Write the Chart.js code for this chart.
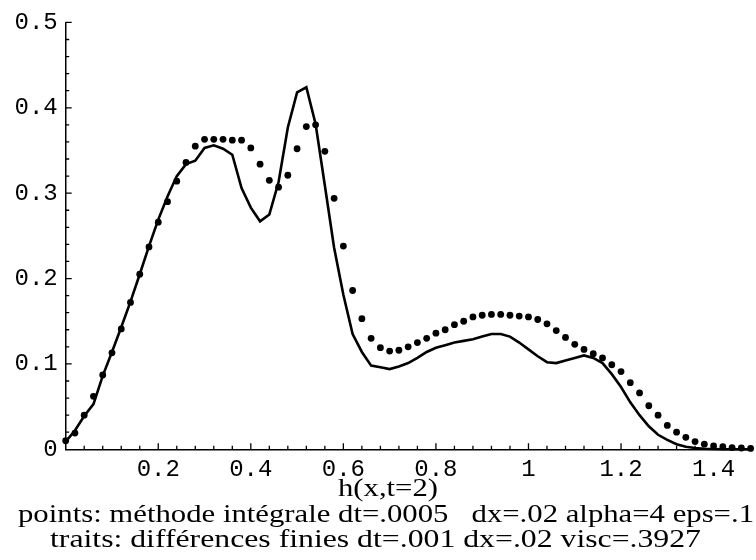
<!DOCTYPE html>
<html><head><meta charset="utf-8">
<script src="https://cdn.jsdelivr.net/npm/chart.js@4/dist/chart.umd.min.js"></script>
<style>html,body{margin:0;padding:0;background:#fff}#wrap{width:756px;height:560px;position:relative}</style>
</head><body><div id="wrap"><canvas id="c" width="756" height="560"></canvas></div>
<script>
const xGrid = [0,0.02,0.04,0.06,0.08,0.10,0.12,0.14,0.16,0.18,0.20,0.22,0.24,0.26,0.28,0.30,0.32,0.34,0.36,0.38,
  0.40,0.42,0.44,0.46,0.48,0.50,0.52,0.54,0.56,0.58,0.60,0.62,0.64,0.66,0.68,0.70,0.72,0.74,0.76,0.78,
  0.80,0.82,0.84,0.86,0.88,0.90,0.92,0.94,0.96,0.98,1.00,1.02,1.04,1.06,1.08,1.10,1.12,1.14,1.16,1.18,
  1.20,1.22,1.24,1.26,1.28,1.30,1.32,1.34,1.36,1.38,1.40,1.42,1.44,1.46,1.48];
// points: méthode intégrale
const dotsH = [0.010,0.019,0.040,0.062,0.087,0.113,0.141,0.172,0.205,0.237,0.266,0.290,0.314,0.336,0.355,0.363,0.363,0.363,0.362,0.362,
  0.353,0.334,0.315,0.307,0.321,0.352,0.378,0.380,0.349,0.294,0.238,0.186,0.153,0.130,0.119,0.115,0.116,0.120,0.125,0.130,
  0.136,0.140,0.146,0.150,0.155,0.157,0.158,0.158,0.157,0.156,0.155,0.152,0.147,0.139,0.131,0.123,0.117,0.112,0.107,0.099,
  0.091,0.078,0.066,0.051,0.040,0.028,0.020,0.014,0.009,0.006,0.004,0.003,0.002,0.0015,0.001];
// traits: différences finies
const lineH = [0.009,0.022,0.039,0.053,0.086,0.114,0.143,0.173,0.205,0.238,0.269,0.296,0.320,0.334,0.338,0.353,0.356,0.352,0.345,0.306,
  0.283,0.267,0.275,0.313,0.377,0.418,0.424,0.381,0.309,0.236,0.181,0.135,0.114,0.098,0.096,0.094,0.097,0.101,0.107,0.114,
  0.119,0.122,0.125,0.127,0.129,0.132,0.135,0.135,0.132,0.125,0.117,0.109,0.102,0.101,0.104,0.107,0.110,0.107,0.101,0.088,
  0.073,0.055,0.040,0.027,0.017,0.011,0.006,0.003,0.0015,0.0007,0.0003,0.0001,0,0,0];
const xTickValues = [0.2,0.4,0.6,0.8,1,1.2,1.4];
const yTickValues = [0,0.1,0.2,0.3,0.4,0.5];
const axisLabel = 'h(x,t=2)';
const captionLines = ['points: méthode intégrale dt=.0005   dx=.02 alpha=4 eps=.1',
                      'traits: différences finies dt=.001 dx=.02 visc=.3927'];

const decor = {
  id: 'decor',
  afterDraw(chart) {
    const {ctx, scales: {x, y}} = chart;
    const ax = x.getPixelForValue(0), ay = y.getPixelForValue(0);
    ctx.save();
    ctx.strokeStyle = '#000';
    ctx.lineWidth = 1.3;
    ctx.beginPath();
    for (let i = 1; i * 0.04 <= x.max + 1e-9; i++) {
      const px = x.getPixelForValue(i * 0.04);
      const len = (i % 5 === 0) ? 6 : 3.5;
      ctx.moveTo(px, ay); ctx.lineTo(px, ay - len);
    }
    for (let i = 1; i * 0.02 <= y.max + 1e-9; i++) {
      const py = y.getPixelForValue(i * 0.02);
      const len = (i % 5 === 0) ? 6 : 3.5;
      ctx.moveTo(ax, py); ctx.lineTo(ax + len, py);
    }
    ctx.stroke();
    ctx.fillStyle = '#000';
    ctx.textBaseline = 'alphabetic';
    const drawFitted = (txt, px, py, align, targetW) => {
      ctx.save();
      ctx.font = '26px "Liberation Serif"';
      const sx = targetW / ctx.measureText(txt).width;
      ctx.translate(px, py);
      ctx.scale(sx, 1);
      ctx.textAlign = align;
      ctx.fillText(txt, 0, 0);
      ctx.restore();
    };
    drawFitted(axisLabel, 388, 496, 'center', 100);
    drawFitted(captionLines[0], 18, 522, 'left', 736);
    drawFitted(captionLines[1], 50, 547, 'left', 651);
    ctx.restore();
  }
};

new Chart(document.getElementById('c'), {
  type: 'scatter',
  data: {
    datasets: [
      { label: 'traits', data: lineH.map((v, i) => ({x: xGrid[i], y: v})), showLine: true,
        borderColor: '#000', backgroundColor: '#000', borderWidth: 2.6, pointRadius: 0, tension: 0, fill: false, clip: false },
      { label: 'points', data: dotsH.map((v, i) => ({x: xGrid[i], y: v})), showLine: false,
        borderColor: '#000', backgroundColor: '#000', pointRadius: 3.4, borderWidth: 0, clip: false }
    ]
  },
  options: {
    responsive: false, animation: false, events: [],
    layout: { padding: { top: 19.5, left: 0, right: 0, bottom: 0 } },
    plugins: { legend: { display: false }, tooltip: { enabled: false } },
    scales: {
      x: {
        type: 'linear', min: 0, max: 1.483,
        afterBuildTicks: s => { s.ticks = xTickValues.map(v => ({value: v})); },
        afterFit: s => { s.height = 110.7; },
        grid: { display: false, drawTicks: false },
        border: { display: true, color: '#000', width: 1.5 },
        ticks: { callback: v => String(v), padding: 6, maxRotation: 0, autoSkip: false, color: '#000',
                 font: { family: '"Liberation Mono"', size: 24 } }
      },
      y: {
        type: 'linear', min: 0, max: 0.5,
        afterBuildTicks: s => { s.ticks = yTickValues.map(v => ({value: v})); },
        afterFit: s => { s.width = 65.7; },
        grid: { display: false, drawTicks: false },
        border: { display: true, color: '#000', width: 1.5 },
        ticks: { callback: v => String(v), padding: 8, color: '#000',
                 font: { family: '"Liberation Mono"', size: 24 } }
      }
    }
  },
  plugins: [decor]
});
</script></body></html>
